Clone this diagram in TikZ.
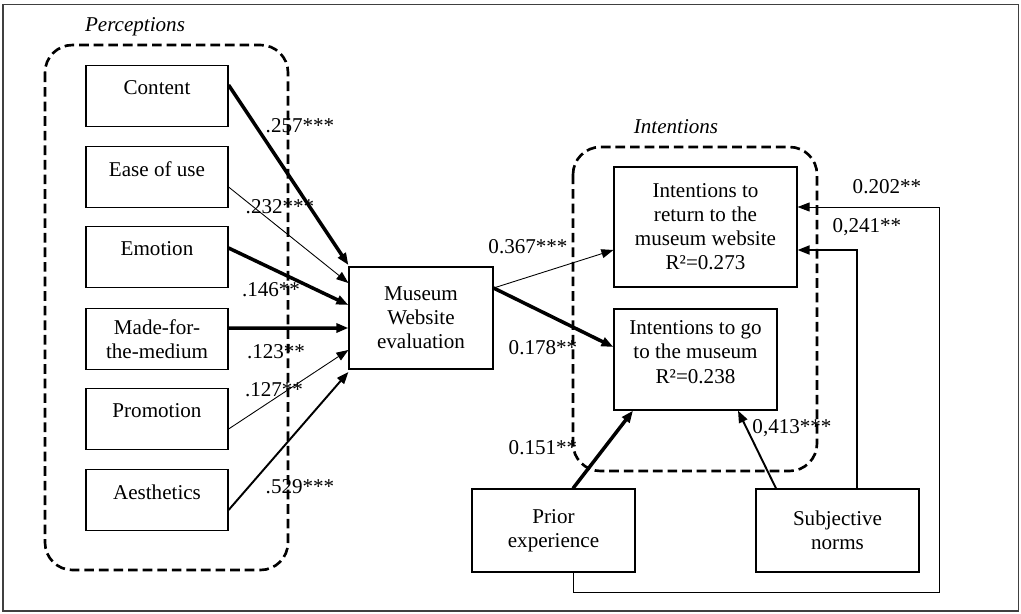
\documentclass[tikz,border=0pt]{standalone}
\usepackage{fontspec}
\setmainfont{Liberation Serif}
\usepackage{tikz}
\usetikzlibrary{
    arrows.meta, positioning, calc
}

\begin{document}
\begin{tikzpicture}[x=0.02cm, y=-0.02cm,
        box/.style={draw, line width=0.7pt, align=center, inner sep=2pt,
            font=\fontsize{12}{13.7}\selectfont},
        leftbox/.style={box, minimum width=2.84cm, minimum height=1.22cm, text depth=0.32cm},
        outbox/.style={box, minimum width=3.26cm},
        group/.style={draw, line width=1.5pt, dash pattern=on 5.5pt off 2.8pt, rounded corners=0.55cm},
        coef/.style={font=\fontsize{12}{14}\selectfont, inner sep=0pt},
        head/.style={font=\fontsize{12}{14}\selectfont\itshape, inner sep=0pt},
        link/.style={-{Triangle[length=0.24cm, width=0.18cm]}},
        weak/.style={link, line width=0.5pt},
        mid/.style={link, line width=1.1pt},
        strong/.style={link, line width=2pt}
    ]
    \useasboundingbox (0,0) rectangle (1021,613);
    \draw[black!75, line width=0.8pt] (3,4.5) rectangle (1018.5,611);

    \draw[group] (45,45) rectangle (288,570);
    \draw[group] (573,147) rectangle (817,471);
    \node[head] (perc) at (135,27) {Perceptions};
    \node[head] (inten) at (676,127) {Intentions};

    \node[leftbox] (content) at (157,96) {Content};
    \node[leftbox] (ease) at (157,177) {Ease of use};
    \node[leftbox] (emotion) at (157,257) {Emotion};
    \node[box, minimum width=2.84cm, minimum height=1.22cm] (medium) at (157,339) {Made-for-\\the-medium};
    \node[leftbox] (promo) at (157,419) {Promotion};
    \node[leftbox] (aesth) at (157,500) {Aesthetics};

    \node[box, minimum width=2.88cm, minimum height=2.04cm] (museum) at (421,318) {Museum\\Website\\evaluation};
    \node[box, minimum width=3.66cm, minimum height=2.4cm] (return) at (705.5,227) {Intentions to\\return to the\\museum website\\R²=0.273};
    \node[outbox, minimum height=2.02cm, text depth=0.3cm] (visit) at (695.5,359.5) {Intentions to go\\to the museum\\R²=0.238};
    \node[outbox, minimum height=1.66cm] (prior) at (553.5,530.5) {Prior\\experience};
    \node[outbox, minimum height=1.66cm] (norms) at (837.5,530.5) {Subjective\\norms};

    \draw[strong] ([yshift=0.22cm]content.east) -- ([yshift=1.06cm]museum.west);
    \draw[weak] ([yshift=-0.2cm]ease.east) -- ([yshift=0.7cm]museum.west);
    \draw[strong] ([yshift=0.18cm]emotion.east) -- ([yshift=0.26cm]museum.west);
    \draw[strong] ([yshift=0.22cm]medium.east) -- ([yshift=-0.2cm]museum.west);
    \draw[weak] ([yshift=-0.2cm]promo.east) -- ([yshift=-0.64cm]museum.west);
    \draw[mid] ([yshift=-0.2cm]aesth.east) -- ([yshift=-1.08cm]museum.west);

    \draw[weak] ([yshift=0.6cm]museum.east) -- ([yshift=-0.46cm]return.west);
    \draw[strong] ([yshift=0.6cm]museum.east) -- ([yshift=0.25cm]visit.west);

    \draw[strong] ([xshift=0.39cm]prior.north) -- ([xshift=-1.25cm]visit.south);
    \draw[mid] ([xshift=-1.23cm]norms.north) -- ([xshift=0.85cm]visit.south);
    \draw[weak] ([xshift=0.39cm]prior.south) |- (939,592) |- ([yshift=0.4cm]return.east);
    \draw[mid] ([xshift=0.39cm]norms.north) |- ([yshift=-0.46cm]return.east);

    \node[coef] (c1) at (300,126) {.257***};
    \node[coef] (c2) at (280,207) {.232***};
    \node[coef] (c3) at (271,290) {.146**};
    \node[coef] (c4) at (276,352) {.123**};
    \node[coef] (c5) at (274,390) {.127**};
    \node[coef] (c6) at (300,487) {.529***};
    \node[coef] (c7) at (528,247) {0.367***};
    \node[coef] (c8) at (543,348) {0.178**};
    \node[coef] (c9) at (543,448) {0.151**};
    \node[coef] (c10) at (792,428) {0,413***};
    \node[coef] (c11) at (887,187) {0.202**};
    \node[coef] (c12) at (867,227) {0,241**};
\end{tikzpicture}
\end{document}
